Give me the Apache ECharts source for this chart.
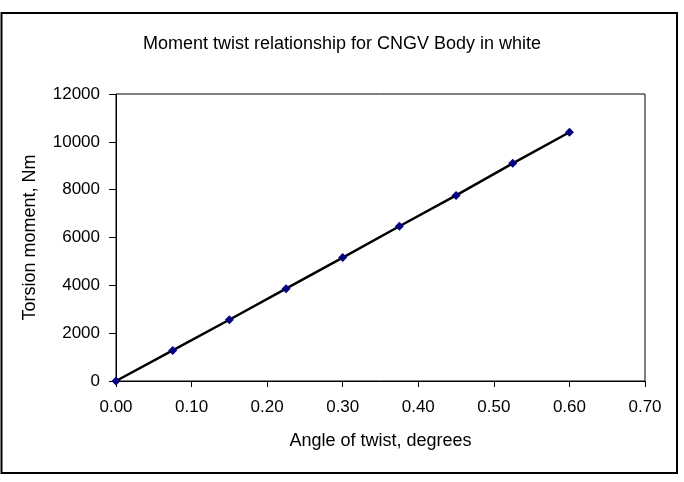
<!DOCTYPE html>
<html>
<head>
<meta charset="utf-8">
<script src="https://cdn.jsdelivr.net/npm/echarts@6/dist/echarts.min.js"></script>
<style>
  html, body { margin: 0; padding: 0; background: #fff; }
  #chart { width: 684px; height: 482px; }
</style>
</head>
<body>
<div id="chart"></div>
<script>
  // angle of twist (degrees) and torsion moment (Nm)
  var angles = [0, 0.075, 0.15, 0.225, 0.3, 0.375, 0.45, 0.525, 0.6]
  var moments = [0, 1280, 2560, 3860, 5160, 6470, 7760, 9100, 10400]

  var xTicks = { min: 0, max: 0.7, step: 0.1 }
  var yTicks = { min: 0, max: 12000, step: 2000 }

  var points = angles.map(function (a, i) { return [a, moments[i]] })

  var chart = echarts.init(document.getElementById('chart'))
  var font = 'Liberation Sans, Arial, sans-serif'

  chart.setOption({
    animation: false,
    textStyle: { fontFamily: font },
    title: {
      text: 'Moment twist relationship for CNGV Body in white',
      left: 'center',
      top: 30,
      textStyle: { fontSize: 18, fontWeight: 'normal', color: '#000', fontFamily: font }
    },
    graphic: [{
      type: 'rect',
      shape: { x: 1.5, y: 13, width: 675.5, height: 460 },
      style: { fill: 'none', stroke: '#000', lineWidth: 2 },
      silent: true
    }],
    grid: {
      left: 116,
      right: 39,
      top: 94,
      bottom: 101,
      show: true,
      borderColor: '#000',
      borderWidth: 1
    },
    xAxis: {
      type: 'value',
      min: xTicks.min,
      max: xTicks.max,
      interval: xTicks.step,
      name: 'Angle of twist, degrees',
      nameLocation: 'middle',
      nameGap: 51,
      nameTextStyle: { fontSize: 18, color: '#000', fontFamily: font },
      axisLine: { lineStyle: { color: '#000', width: 1 } },
      axisTick: { show: true, length: 6, lineStyle: { color: '#000' } },
      axisLabel: {
        fontSize: 17, color: '#000', margin: 18,
        formatter: function (v) { return v.toFixed(2) }
      },
      splitLine: { show: false }
    },
    yAxis: {
      type: 'value',
      min: yTicks.min,
      max: yTicks.max,
      interval: yTicks.step,
      name: 'Torsion moment, Nm',
      nameLocation: 'middle',
      nameGap: 77,
      nameTextStyle: { fontSize: 18, color: '#000', fontFamily: font },
      axisLine: { show: true, lineStyle: { color: '#000', width: 1 } },
      axisTick: { show: true, length: 7, lineStyle: { color: '#000' } },
      axisLabel: {
        fontSize: 17, color: '#000', margin: 16,
        formatter: function (v) { return String(v) }
      },
      splitLine: { show: false }
    },
    series: [{
      type: 'line',
      data: points,
      symbol: 'diamond',
      symbolSize: 9,
      itemStyle: { color: '#000080' },
      lineStyle: { color: '#000', width: 2.5 },
      z: 3
    }]
  })
</script>
</body>
</html>
